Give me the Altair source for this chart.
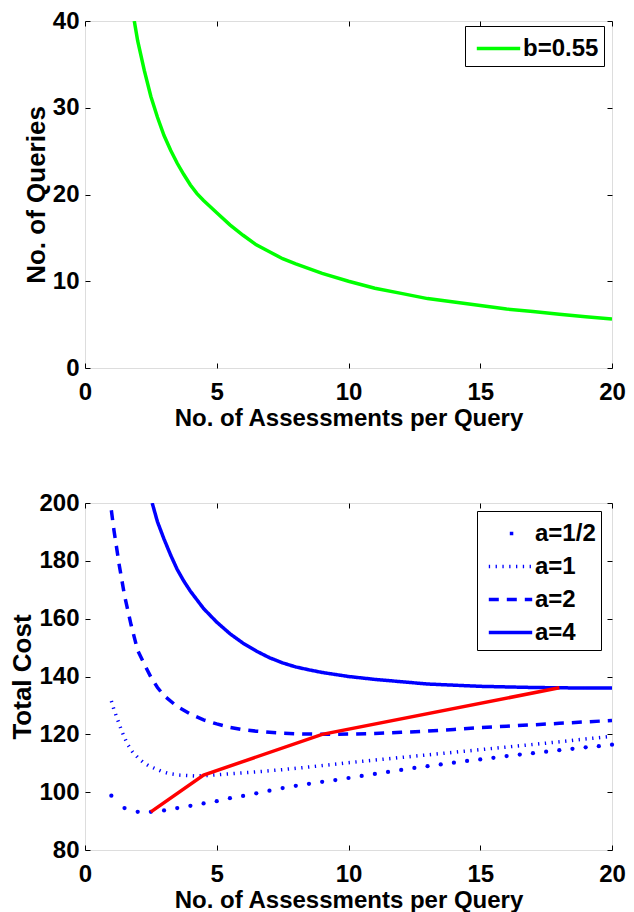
import altair as alt
import pandas as pd

FONT = "Liberation Sans"
BLUE = "#0000ff"

# ---- top panel data ----
k_top = [1.87, 2, 2.25, 2.5, 2.75, 3, 3.25, 3.5, 3.75, 4, 4.25, 4.5, 5, 5.5, 6, 6.5, 7,
         7.5, 8, 9, 10, 11, 12, 13, 14, 15, 16, 17, 18, 19, 20]
queries = [40.0, 37.7, 34.3, 31.3, 28.9, 26.8, 25.1, 23.6, 22.3, 21.1, 20.1, 19.3, 17.9,
           16.5, 15.3, 14.2, 13.4, 12.6, 12.0, 10.9, 10.0, 9.2, 8.6, 8.0, 7.6, 7.2, 6.8,
           6.5, 6.2, 5.9, 5.65]
top_label = "b=0.55"

# ---- bottom panel data ----
k_half = [1, 1.5, 2, 2.5, 3, 3.5, 4, 4.5, 5, 5.5, 6, 6.5, 7, 7.5, 8, 8.5, 9, 9.5, 10,
          10.5, 11, 11.5, 12, 12.5, 13, 13.5, 14, 14.5, 15, 15.5, 16, 16.5, 17, 17.5,
          18, 18.5, 19, 19.5, 20]
cost_half = [98.8, 94.5, 93.2, 93.2, 93.7, 94.5, 95.3, 96.1, 96.9, 97.9, 98.7, 99.6,
             100.5, 101.4, 102.2, 102.9, 103.6, 104.2, 104.9, 105.6, 106.3, 107.0,
             107.7, 108.4, 109.0, 109.6, 110.2, 110.8, 111.3, 111.9, 112.5, 113.0,
             113.5, 114.0, 114.5, 115.0, 115.5, 115.9, 116.4]

k_one = [1, 1.1, 1.2, 1.4, 1.6, 1.8, 2, 2.2, 2.4, 2.6, 2.9, 3.2, 3.6, 4.2, 4.7, 5.4,
         6.5, 7.5, 8.5, 10, 11, 12, 13, 14, 15, 16, 17, 18, 19, 20]
cost_one = [131.5, 128.5, 126.0, 121.0, 116.8, 114.0, 112.0, 110.4, 109.2, 108.4,
            107.2, 106.4, 105.9, 105.6, 105.8, 106.3, 107.0, 107.8, 108.7, 110.2,
            111.1, 112.0, 112.9, 113.8, 114.7, 115.6, 116.5, 117.4, 118.4, 119.3]

k_two = [1, 1.1, 1.3, 1.5, 1.75, 2, 2.25, 2.5, 2.75, 3, 3.5, 4, 4.5, 5, 5.5, 6, 6.5, 7,
         7.5, 8, 9, 10, 11, 12, 13, 14, 15, 16, 17, 18, 19, 20]
cost_two = [197.5, 190.5, 178.5, 168.0, 157.8, 149.0, 144.3, 139.8, 136.2, 133.4,
            129.6, 127.0, 125.0, 123.6, 122.4, 121.6, 121.1, 120.7, 120.4, 120.2,
            120.0, 120.1, 120.3, 120.7, 121.1, 121.7, 122.3, 122.8, 123.3, 123.8,
            124.3, 124.8]

k_four = [2.55, 2.75, 3, 3.25, 3.5, 3.75, 4, 4.5, 5, 5.5, 6, 6.5, 7, 7.5, 8, 8.5, 9,
          10, 11, 12, 13, 14, 15, 16, 17, 18, 19, 20]
cost_four = [200.0, 193.5, 187.5, 182.0, 177.0, 173.0, 169.5, 163.5, 158.8, 154.8,
             151.5, 148.8, 146.5, 144.7, 143.3, 142.3, 141.4, 140.0, 139.0, 138.2,
             137.4, 137.0, 136.6, 136.4, 136.2, 136.1, 136.0, 136.0]

k_red = [2.5, 4.5, 9, 18]
cost_red = [93.2, 105.9, 120.0, 136.1]

series_names = ["a=1/2", "a=1", "a=2", "a=4"]
x_ticks = [0, 5, 10, 15, 20]
y_ticks_top = [0, 10, 20, 30, 40]
y_ticks_bot = [80, 100, 120, 140, 160, 180, 200]

W, H = 527, 347
XTITLE = "No. of Assessments per Query"


def ax(orient, values, title=None, labels=True):
    kw = dict(orient=orient, values=values, offset=-5, tickSize=5, domain=False,
              grid=False, tickColor="black", tickWidth=1, labels=labels)
    if labels:
        kw.update(labelFont=FONT, labelFontSize=24, labelFontWeight="bold",
                  labelColor="black",
                  labelPadding=12 if orient == "bottom" else 6,
                  labelFlush=False, labelOverlap=False)
    if title:
        kw.update(title=title, titleFont=FONT, titleFontWeight="bold",
                  titleColor="black",
                  titleFontSize=24 if orient == "bottom" else 26,
                  titlePadding=2 if orient == "bottom" else 3)
    else:
        kw.update(title=None)
    return alt.Axis(**kw)


def legend(lx, ly):
    return alt.Legend(title=None, orient="none", legendX=lx, legendY=ly,
                      strokeColor="black", fillColor="white", padding=5,
                      cornerRadius=0, labelFont=FONT, labelFontSize=24,
                      labelFontWeight="bold", labelColor="black",
                      symbolType="M-1.4,0H1.4", symbolSize=961,
                      symbolStrokeWidth=3.5, symbolOffset=11, labelOffset=7,
                      rowPadding=3, labelLimit=300)


# ---------------- top panel ----------------
df_top = pd.DataFrame({"k": k_top, "n": queries, "series": top_label})
xs_top = alt.Scale(domain=[0, 20], nice=False)
ys_top = alt.Scale(domain=[0, 40], nice=False)

top_line = alt.Chart(df_top).mark_line(strokeWidth=3.5, clip=True).encode(
    x=alt.X("k:Q", scale=xs_top, axis=ax("bottom", x_ticks, XTITLE)),
    y=alt.Y("n:Q", scale=ys_top, axis=ax("left", y_ticks_top, "No. of Queries")),
    color=alt.Color("series:N",
                    scale=alt.Scale(domain=[top_label], range=["#00ff00"]),
                    legend=legend(380, 5)),
)
top_mirror = alt.Chart(df_top).mark_point(opacity=0).encode(
    x=alt.X("k:Q", scale=xs_top, axis=ax("top", x_ticks, labels=False)),
    y=alt.Y("n:Q", scale=ys_top, axis=ax("right", y_ticks_top, labels=False)),
)
top = alt.layer(top_line, top_mirror).resolve_axis(
    x="independent", y="independent").properties(width=W, height=H)

# ---------------- bottom panel ----------------
df_half = pd.DataFrame({"k": k_half, "c": cost_half})
df_lines = pd.concat([
    pd.DataFrame({"k": k_one, "c": cost_one, "series": "a=1"}),
    pd.DataFrame({"k": k_two, "c": cost_two, "series": "a=2"}),
    pd.DataFrame({"k": k_four, "c": cost_four, "series": "a=4"}),
])
df_red = pd.DataFrame({"k": k_red, "c": cost_red})

xs_b = alt.Scale(domain=[0, 20], nice=False)
ys_b = alt.Scale(domain=[80, 200], nice=False)

b_lines = alt.Chart(df_lines).mark_line(color=BLUE, strokeWidth=3.5, clip=True).encode(
    x=alt.X("k:Q", scale=xs_b, axis=ax("bottom", x_ticks, XTITLE)),
    y=alt.Y("c:Q", scale=ys_b, axis=ax("left", y_ticks_bot, "Total Cost")),
    strokeDash=alt.StrokeDash(
        "series:N",
        scale=alt.Scale(domain=series_names,
                        range=[[0, 21, 3.5, 100], [1.3, 5.5], [10, 8], [1, 0]]),
        legend=legend(392, 490)),
)
b_half = alt.Chart(df_half).mark_circle(size=18, color=BLUE, opacity=1).encode(
    x=alt.X("k:Q", scale=xs_b, axis=None), y=alt.Y("c:Q", scale=ys_b, axis=None))
b_red = alt.Chart(df_red).mark_line(color="#ff0000", strokeWidth=3.5).encode(
    x=alt.X("k:Q", scale=xs_b, axis=None), y=alt.Y("c:Q", scale=ys_b, axis=None))
b_mirror = alt.Chart(df_half).mark_point(opacity=0).encode(
    x=alt.X("k:Q", scale=xs_b, axis=ax("top", x_ticks, labels=False)),
    y=alt.Y("c:Q", scale=ys_b, axis=ax("right", y_ticks_bot, labels=False)),
)
bottom = alt.layer(b_lines, b_half, b_red, b_mirror).resolve_axis(
    x="independent", y="independent").properties(width=W, height=H)

chart = alt.vconcat(top, bottom, spacing=135, bounds="flush").properties(
    padding={"left": 1, "top": 0, "right": 0, "bottom": 0}
).configure_view(stroke="black", strokeWidth=1).configure(background="white")

chart.save("out.html", embed_options={"renderer": "svg", "actions": False})
